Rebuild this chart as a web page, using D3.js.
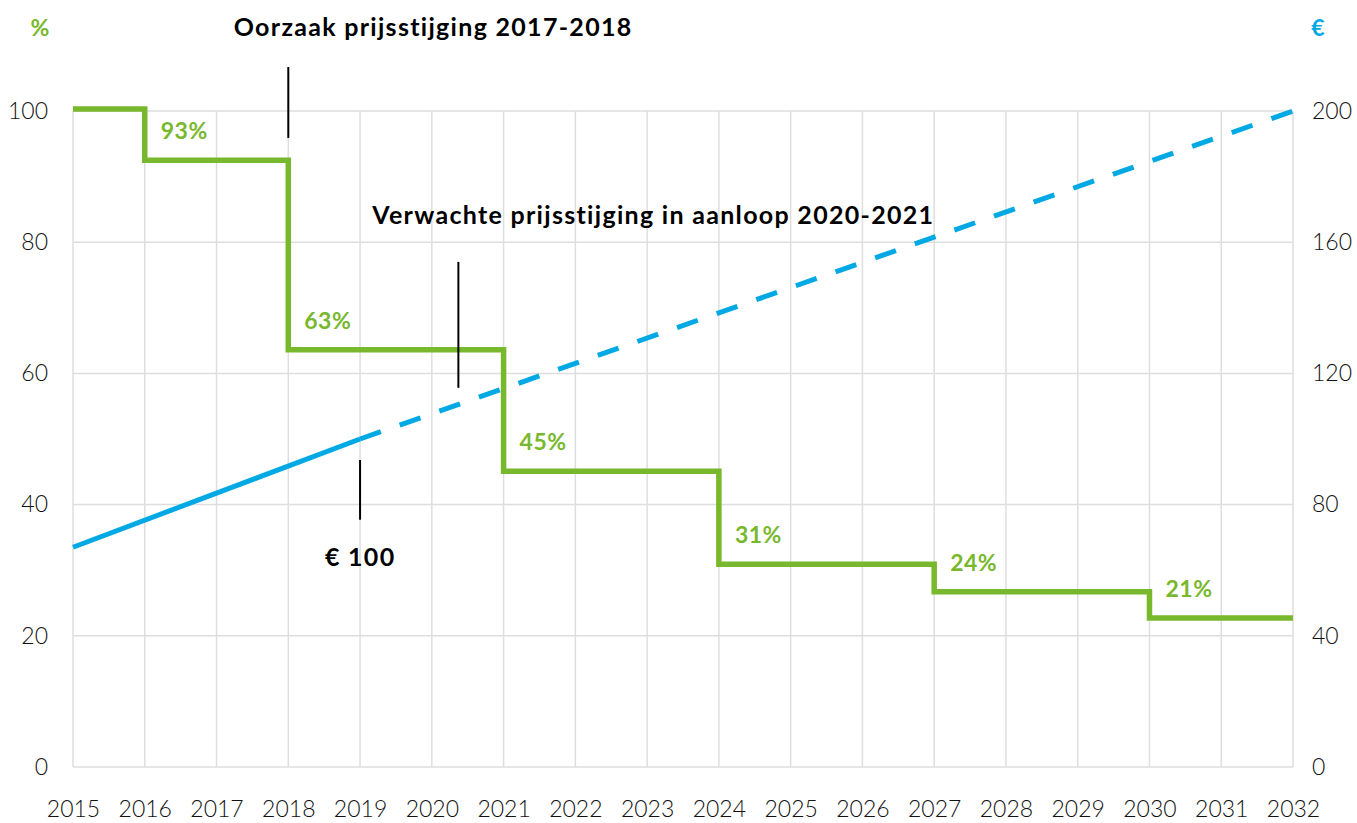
<!DOCTYPE html>
<html>
<head>
<meta charset="utf-8">
<script src="https://cdn.jsdelivr.net/npm/d3@7"></script>
<style>
  body { margin: 0; background: #fff; }
  svg { display: block; }
</style>
</head>
<body>
<svg id="chart" width="1357" height="823"></svg>
<script>
// data
let years = d3.range(2015, 2033);
let pctTicks = [0, 20, 40, 60, 80, 100];
let euroTicks = [0, 40, 80, 120, 160, 200];

let stepYears = [2015, 2016, 2018, 2021, 2024, 2027, 2030, 2032];
let stepValues = [100.3, 92.5, 63.6, 45.1, 30.9, 26.7, 22.7, 22.7];
let stepLabels = ["", "93%", "63%", "45%", "31%", "24%", "21%"];

let priceYears = [2015, 2019];
let priceValues = [67, 100];
let forecastYears = [2019, 2032];
let forecastValues = [100, 200];

let greenColor = "#78b82d";
let blueColor = "#00a9e3";
let gridColor = "#dedede";
let textColor = "#111";
let font = "Lato, 'Open Sans', sans-serif";

let svg = d3.select("#chart");
let plotLeft = 73, plotRight = 1293, plotTop = 111, plotBottom = 767;

let x = d3.scaleLinear().domain([2015, 2032]).range([plotLeft, plotRight]);
let yPct = d3.scaleLinear().domain([0, 100]).range([plotBottom, plotTop]);
let yEuro = d3.scaleLinear().domain([0, 200]).range([plotBottom, plotTop]);

// grid
svg.append("g")
  .selectAll("line")
  .data(years)
  .enter()
  .append("line")
  .attr("x1", d => x(d)).attr("x2", d => x(d))
  .attr("y1", plotTop).attr("y2", plotBottom)
  .style("stroke", gridColor).style("stroke-width", 1.5);

svg.append("g")
  .selectAll("line")
  .data(pctTicks)
  .enter()
  .append("line")
  .attr("x1", plotLeft).attr("x2", plotRight)
  .attr("y1", d => yPct(d)).attr("y2", d => yPct(d))
  .style("stroke", gridColor).style("stroke-width", 1.5);

// axes (labels only)
function styleAxis(g) {
  g.select(".domain").remove();
  g.selectAll(".tick line").remove();
  g.selectAll("text")
    .style("font-family", font)
    .style("font-size", "23px")
    .style("font-weight", 300)
    .style("fill", textColor);
}

svg.append("g")
  .attr("transform", "translate(" + plotLeft + ",0)")
  .call(d3.axisLeft(yPct).tickValues(pctTicks).tickSize(0).tickPadding(25))
  .call(styleAxis);

svg.append("g")
  .attr("transform", "translate(" + plotRight + ",0)")
  .call(d3.axisRight(yEuro).tickValues(euroTicks).tickSize(0).tickPadding(19))
  .call(styleAxis);

svg.append("g")
  .attr("transform", "translate(0," + plotBottom + ")")
  .call(d3.axisBottom(x).tickValues(years).tickFormat(d3.format("d")).tickSize(0).tickPadding(34))
  .call(styleAxis);

// axis unit symbols
svg.append("text")
  .attr("x", 40).attr("y", 36)
  .attr("text-anchor", "middle")
  .text("%")
  .style("font-family", font).style("font-weight", 700)
  .style("font-size", "23px").style("fill", greenColor);

svg.append("text")
  .attr("x", 1318).attr("y", 36)
  .attr("text-anchor", "middle")
  .text("€")
  .style("font-family", font).style("font-weight", 700)
  .style("font-size", "23px").style("fill", blueColor);

// blue price line
let priceLine = d3.line()
  .x(d => x(d[0]))
  .y(d => yEuro(d[1]));

svg.append("path")
  .attr("d", priceLine(d3.zip(priceYears, priceValues)))
  .style("fill", "none")
  .style("stroke", blueColor)
  .style("stroke-width", 5);

svg.append("path")
  .attr("d", priceLine(d3.zip(forecastYears, forecastValues)))
  .style("fill", "none")
  .style("stroke", blueColor)
  .style("stroke-width", 5)
  .style("stroke-dasharray", "22,20");

// green step line
let stepLine = d3.line()
  .x(d => x(d[0]))
  .y(d => yPct(d[1]))
  .curve(d3.curveStepAfter);

svg.append("path")
  .attr("d", stepLine(d3.zip(stepYears, stepValues)))
  .style("fill", "none")
  .style("stroke", greenColor)
  .style("stroke-width", 5.5)
  .style("stroke-linejoin", "miter");

svg.selectAll(".stepLabel")
  .data(stepLabels.map((t, i) => ({ text: t, year: stepYears[i], value: stepValues[i] })).filter(d => d.text))
  .enter()
  .append("text")
  .attr("class", "stepLabel")
  .attr("x", d => x(d.year) + 16)
  .attr("y", d => yPct(d.value) - 21)
  .text(d => d.text)
  .style("font-family", font).style("font-weight", 700)
  .style("font-size", "23px").style("letter-spacing", "0.5px")
  .style("fill", greenColor);

// annotations
let noteLines = [
  { year: 2018, from: 95.9, to: 106.7 },
  { year: 2020.37, from: 57.8, to: 77 },
  { year: 2019, from: 37.7, to: 46.8 }
];
let noteTexts = [
  { year: 2017.24, value: 111.4, text: "Oorzaak prijsstijging 2017-2018" },
  { year: 2019.17, value: 82.8, text: "Verwachte prijsstijging in aanloop 2020-2021" },
  { year: 2018.51, value: 30.6, text: "€ 100" }
];

svg.selectAll(".noteLine")
  .data(noteLines)
  .enter()
  .append("line")
  .attr("x1", d => x(d.year)).attr("x2", d => x(d.year))
  .attr("y1", d => yPct(d.from)).attr("y2", d => yPct(d.to))
  .style("stroke", "#000").style("stroke-width", 2);

svg.selectAll(".noteText")
  .data(noteTexts)
  .enter()
  .append("text")
  .attr("x", d => x(d.year))
  .attr("y", d => yPct(d.value))
  .text(d => d.text)
  .style("font-family", font).style("font-weight", 700)
  .style("font-size", "25px").style("letter-spacing", "1.3px")
  .style("fill", "#000");
</script>
</body>
</html>
